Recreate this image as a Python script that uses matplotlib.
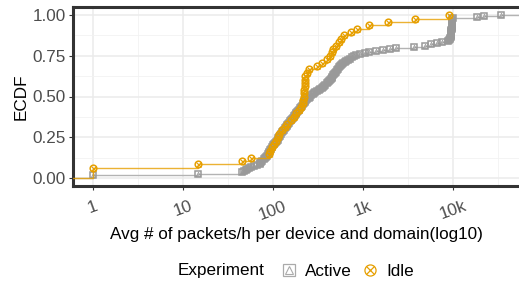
import numpy as np
import matplotlib
matplotlib.use('Agg')
import matplotlib.pyplot as plt
from matplotlib.lines import Line2D
from matplotlib.legend_handler import HandlerTuple

plt.rcParams['font.family'] = ['Liberation Sans', 'DejaVu Sans']

# avg packets/h per device and domain, stored as log10 values
active_log10 = [0, 0, 0, 1.17, 1.66, 1.68,
                1.70, 1.71, 1.73, 1.75, 1.79, 1.82,
                1.85, 1.86, 1.87, 1.88, 1.90, 1.91, 1.92, 1.93,
                1.94, 1.94, 1.95, 1.96, 1.97, 1.97, 1.98, 1.99, 2.00,
                2.00, 2.01, 2.02, 2.03, 2.04, 2.05, 2.06, 2.06, 2.07, 2.08,
                2.09, 2.10, 2.10, 2.11, 2.12, 2.13, 2.13, 2.14, 2.15,
                2.16, 2.17, 2.18, 2.19, 2.20, 2.21, 2.22,
                2.23, 2.23, 2.24, 2.25, 2.26, 2.27, 2.28, 2.29,
                2.30, 2.31, 2.32, 2.33, 2.33, 2.34, 2.35, 2.36, 2.37,
                2.38, 2.40, 2.41, 2.42, 2.44, 2.45,
                2.47, 2.49, 2.51, 2.52, 2.54, 2.56,
                2.57, 2.58, 2.60, 2.61, 2.62, 2.63,
                2.64, 2.65, 2.66, 2.67, 2.67, 2.68, 2.69, 2.70, 2.71, 2.72, 2.73, 2.73,
                2.74, 2.76, 2.77, 2.78, 2.80, 2.81,
                2.83, 2.85, 2.88, 2.90, 2.92,
                2.97, 3.02, 3.07, 3.14, 3.22, 3.30, 3.37,
                3.57, 3.69, 3.76, 3.82, 3.88, 3.95,
                3.96, 3.965, 3.97, 3.973, 3.976, 3.978, 3.98, 3.981, 3.982, 3.983,
                3.984, 3.985, 3.986, 3.987, 3.988, 3.989, 3.99, 3.991, 3.992, 3.993, 3.995,
                4.27, 4.34, 4.53]

idle_log10 = [0, 0, 0, 1.17, 1.66, 1.76, 1.95, 1.97, 1.99, 2.01, 2.03, 2.05,
              2.07, 2.10, 2.13, 2.16, 2.20, 2.23, 2.26, 2.29, 2.31, 2.33, 2.335, 2.34,
              2.342, 2.345, 2.35, 2.352, 2.355, 2.36, 2.38, 2.40, 2.49, 2.54, 2.60, 2.63,
              2.65, 2.67, 2.70, 2.73, 2.76, 2.79, 2.87, 2.93, 3.07, 3.28, 3.58, 3.96]

x_ticks = [0, 1, 2, 3, 4]
x_ticklabels = ['1', '10', '100', '1k', '10k']
y_ticks = [0, 0.25, 0.5, 0.75, 1.0]

GRAY = '#999999'
ORANGE = '#E69F00'

W, H = 519, 285
fig = plt.figure(figsize=(W / 100, H / 100), dpi=100)
ax = fig.add_axes([72.8 / W, 1 - 186 / H, (521 - 72.8) / W, (186 - 7) / H])

allv = np.array(active_log10 + idle_log10)
lo, hi = allv.min(), allv.max()
pad = 0.05 * (hi - lo)
xlo, xhi = lo - pad, hi + pad


def ecdf(vals):
    xs = np.sort(np.array(vals, dtype=float))
    ys = np.arange(1, len(xs) + 1) / len(xs)
    # one point per distinct value, at the top of its step
    ux, last = np.unique(xs[::-1], return_index=True)
    uy = ys[::-1][last]
    return xs, ys, ux, uy


# Active
xs, ys, ux, uy = ecdf(active_log10)
ax.plot(np.r_[xlo, xs, xhi], np.r_[0, ys, 1], drawstyle='steps-post',
        color='#b3b3b3', lw=1.0, zorder=2)
ax.plot(ux, uy, ls='none', marker='s', ms=4.6, mfc='none', mec=GRAY, mew=1.1, zorder=3)
ax.plot(ux, uy, ls='none', marker='^', ms=3.2, mfc='none', mec=GRAY, mew=0.6, zorder=3)

# Idle
xs, ys, ux, uy = ecdf(idle_log10)
ax.plot(np.r_[xlo, xs], np.r_[0, ys], drawstyle='steps-post',
        color=ORANGE, alpha=0.8, lw=1.0, zorder=4)
ax.plot(ux, uy, ls='none', marker='o', ms=4.8, mfc='none', mec=ORANGE, mew=1.1, zorder=5)
ax.plot(ux, uy, ls='none', marker='x', ms=3.6, mfc='none', mec=ORANGE, mew=0.8, zorder=5)

ax.set_xlim(xlo, xhi)
ax.set_ylim(-0.05, 1.05)
ax.set_xticks(x_ticks)
ax.set_xticklabels(x_ticklabels, rotation=20, ha='center')
ax.set_yticks(y_ticks)
ax.set_yticklabels(['%.2f' % v for v in y_ticks])
ax.set_xticks([0.5, 1.5, 2.5, 3.5, 4.5], minor=True)
ax.set_yticks([0.125, 0.375, 0.625, 0.875], minor=True)
ax.grid(True, which='major', color='#EBEBEB', lw=1.1, zorder=0)
ax.grid(True, which='minor', color='#F2F2F2', lw=0.6, zorder=0)
ax.set_axisbelow(True)
ax.tick_params(which='major', length=3, width=0.8, color='#333333',
               labelcolor='#4D4D4D', labelsize=12.3, pad=2)
ax.tick_params(axis='x', pad=6)
ax.tick_params(which='minor', length=0)
for s in ax.spines.values():
    s.set_color('#333333')
    s.set_linewidth(2.2)

ax.set_xlabel('Avg # of packets/h per device and domain(log10)', fontsize=12.3, labelpad=3)
ax.set_ylabel('ECDF', fontsize=12.3, labelpad=3)

# legend at the bottom
fig.text(178 / W, 1 - 271 / H, 'Experiment', fontsize=12.3, va='center', ha='left')
h_act = (Line2D([], [], ls='none', marker='s', ms=8, mfc='none', mec='#aaaaaa', mew=0.9),
         Line2D([], [], ls='none', marker='^', ms=6, mfc='none', mec='#aaaaaa', mew=0.8))
h_idle = (Line2D([], [], ls='none', marker='o', ms=8, mfc='none', mec=ORANGE, mew=0.9),
          Line2D([], [], ls='none', marker='x', ms=6, mfc='none', mec=ORANGE, mew=0.9))
fig.legend([h_act, h_idle], ['Active', 'Idle'],
           handler_map={tuple: HandlerTuple(ndivide=1)},
           loc='center left', bbox_to_anchor=(280 / W, 1 - 271 / H),
           ncol=2, frameon=False, fontsize=12.3, handlelength=1.0,
           handletextpad=0.45, columnspacing=0.6, borderaxespad=0, borderpad=0)

fig.savefig('out.png', dpi=100)
